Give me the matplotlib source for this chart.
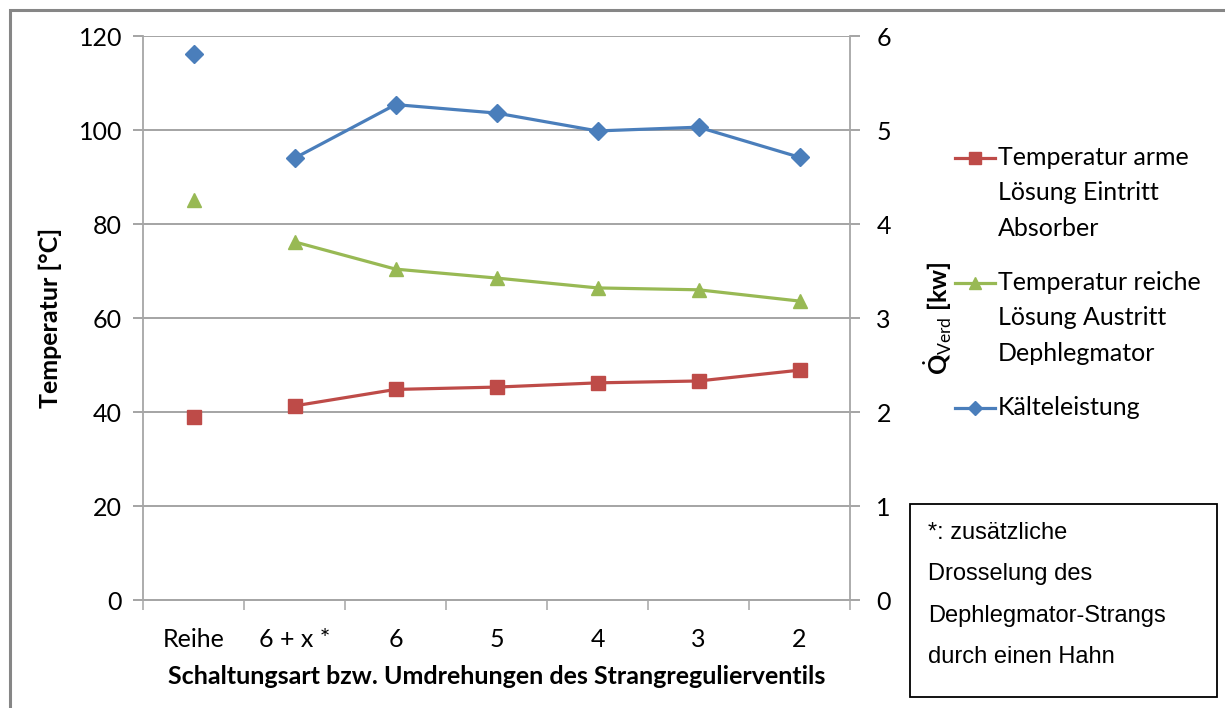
import matplotlib
matplotlib.use("Agg")
import matplotlib.pyplot as plt
from matplotlib.lines import Line2D
from matplotlib.patches import Rectangle
import numpy as np

categories = ["Reihe", "6 + x *", "6", "5", "4", "3", "2"]
temp_arm = [38.9, 41.3, 44.8, 45.3, 46.2, 46.6, 48.9]
temp_reich = [85.1, 76.2, 70.4, 68.5, 66.4, 66.0, 63.6]
kaelteleistung = [5.81, 4.70, 5.27, 5.18, 4.99, 5.03, 4.71]
left_ticks = [0, 20, 40, 60, 80, 100, 120]
right_ticks = [0, 1, 2, 3, 4, 5, 6]

legend_labels = ["Temperatur arme\nLösung Eintritt\nAbsorber",
                 "Temperatur reiche\nLösung Austritt\nDephlegmator",
                 "Kälteleistung"]
note_lines = ["*: zusätzliche", "Drosselung des", "Dephlegmator-Strangs", "durch einen Hahn"]

RED = "#BE4B48"
GREEN = "#98B954"
BLUE = "#4A7EBB"
GRID = "#8C8C8C"
AX = "#A6A6A6"
FONT = "Lato"
FS = 18

plt.rcParams["mathtext.fontset"] = "custom"
plt.rcParams["mathtext.rm"] = "Lato"
plt.rcParams["mathtext.bf"] = "Lato:bold"
plt.rcParams["mathtext.it"] = "Lato:italic"

W, H = 1225, 708
fig = plt.figure(figsize=(W / 100, H / 100), dpi=100)

def fx(px):
    return px / W

def fy(py):
    return 1 - py / H

# outer frame (only left/top visible in reference)
fig.add_artist(Rectangle((fx(10), fy(760)), fx(1300), fy(10) - fy(760),
                         transform=fig.transFigure, fill=False,
                         edgecolor="#868686", linewidth=2.2))

ax = fig.add_axes([fx(143), fy(600), fx(850) - fx(143), fy(36) - fy(600)])
ax2 = ax.twinx()

x = np.arange(len(categories))
ax.set_xlim(-0.5, len(categories) - 0.5)
ax.set_ylim(0, 120)
ax2.set_ylim(0, 6)

ms_sq = 10.5
ms_tri = 10.5
ms_dia = 9.5
lw = 2.3

# Reihe points (not connected)
ax.plot(x[:1], temp_arm[:1], ls="none", marker="s", ms=ms_sq, color=RED, zorder=4)
ax.plot(x[:1], temp_reich[:1], ls="none", marker="^", ms=ms_tri, color=GREEN, zorder=4)
ax2.plot(x[:1], kaelteleistung[:1], ls="none", marker="D", ms=ms_dia, color=BLUE, zorder=4)
# connected series
ax.plot(x[1:], temp_arm[1:], marker="s", ms=ms_sq, lw=lw, color=RED, zorder=4)
ax.plot(x[1:], temp_reich[1:], marker="^", ms=ms_tri, lw=lw, color=GREEN, zorder=4)
ax2.plot(x[1:], kaelteleistung[1:], marker="D", ms=ms_dia, lw=lw, color=BLUE, zorder=4)

# grid
ax.set_yticks(left_ticks)
ax.set_yticklabels([str(t) for t in left_ticks], fontsize=FS, family=FONT)
ax.yaxis.grid(True, color=GRID, lw=1.1)
ax.set_axisbelow(True)
ax2.set_yticks(right_ticks)
ax2.set_yticklabels([str(t) for t in right_ticks], fontsize=FS, family=FONT)

ax.set_xticks(x)
ax.set_xticklabels(categories, fontsize=FS, family=FONT)
ax.tick_params(axis="x", which="major", length=0, pad=20)
ax.set_xticks(np.arange(-0.5, len(categories), 1.0), minor=True)
ax.tick_params(axis="x", which="minor", length=7, color=AX, width=1.1, direction="out")
ax.tick_params(axis="y", length=7, color=GRID, width=1.1, pad=8)
ax2.tick_params(axis="y", length=7, color=GRID, width=1.1, pad=12)

for a in (ax, ax2):
    a.spines["top"].set_visible(False)
    for s in ("left", "right", "bottom"):
        a.spines[s].set_color(AX)
        a.spines[s].set_linewidth(1.3)
ax2.spines["left"].set_visible(False)
ax.spines["right"].set_visible(False)

ax.set_ylabel("Temperatur [°C]", fontsize=FS, family=FONT, fontweight="bold", labelpad=12)
ax.set_xlabel("Schaltungsart bzw. Umdrehungen des Strangregulierventils",
              fontsize=FS, family=FONT, fontweight="bold", labelpad=10)
ax2.set_ylabel(r"$\dot{\mathbf{Q}}_{\mathrm{Verd}}$ [kw]", fontsize=FS, family=FONT,
               fontweight="bold", labelpad=22)

# legend drawn manually (handle aligned with first text line)
leg_y = [158, 283, 408]
handles = [(RED, "s", ms_sq - 1.5), (GREEN, "^", ms_tri - 1.5), (BLUE, "D", ms_dia - 2.5)]
for (c, m, ms), yy, lab in zip(handles, leg_y, legend_labels):
    fig.add_artist(Line2D([fx(955), fx(995)], [fy(yy), fy(yy)], transform=fig.transFigure,
                          color=c, lw=lw))
    fig.add_artist(Line2D([fx(975)], [fy(yy)], transform=fig.transFigure, color=c,
                          marker=m, ms=ms, ls="none"))
    fig.text(fx(998), fy(yy - 12), lab, fontsize=FS, family=FONT, va="top",
             ha="left", linespacing=1.65)

# note box
fig.add_artist(Rectangle((fx(910), fy(697)), fx(1217) - fx(910), fy(504) - fy(697),
                         transform=fig.transFigure, fill=False, edgecolor="black", lw=1.3))
for i, line in enumerate(note_lines):
    fig.text(fx(928), fy(533 + i * 41.3), line, fontsize=17, family="Liberation Sans",
             va="center", ha="left")

fig.savefig("out.png", dpi=100)
